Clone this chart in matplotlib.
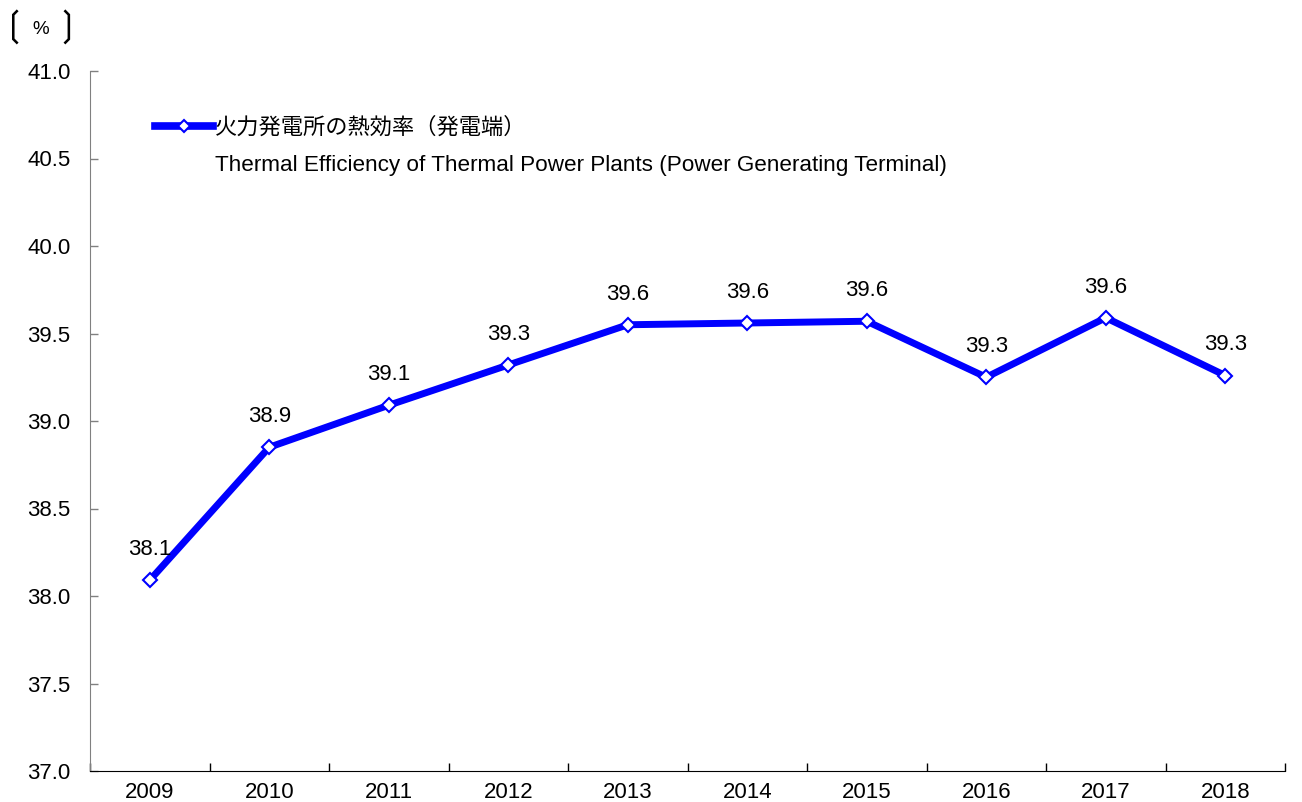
import matplotlib
matplotlib.use("Agg")
import matplotlib.pyplot as plt
from matplotlib.lines import Line2D

plt.rcParams['font.family'] = ['Liberation Sans', 'Noto Sans CJK JP', 'DejaVu Sans']

years = ['2009', '2010', '2011', '2012', '2013', '2014', '2015', '2016', '2017', '2018']
efficiency = [38.09, 38.85, 39.09, 39.32, 39.55, 39.56, 39.57, 39.25, 39.59, 39.26]
value_labels = ['38.1', '38.9', '39.1', '39.3', '39.6', '39.6', '39.6', '39.3', '39.6', '39.3']
y_ticks = [37.0, 37.5, 38.0, 38.5, 39.0, 39.5, 40.0, 40.5, 41.0]
legend_jp = '火力発電所の熱効率（発電端）'
legend_en = 'Thermal Efficiency of Thermal Power Plants (Power Generating Terminal)'
unit_label = '%'

fig = plt.figure(figsize=(13.02, 8.02), dpi=100)
ax = fig.add_axes([90/1302, 31/802, 1195/1302, 700/802])

x = list(range(len(years)))
line, = ax.plot(x, efficiency, color='#0000FF', linewidth=5,
                marker='D', markersize=7.5, markerfacecolor='white',
                markeredgecolor='#0000FF', markeredgewidth=1.5, zorder=3)

for xi, v, lab in zip(x, efficiency, value_labels):
    ax.annotate(lab, (xi, v), xytext=(0, 18), textcoords='offset points',
                ha='center', va='baseline', fontsize=16, color='black')

ax.set_xlim(-0.5, len(years) - 0.5)
ax.set_ylim(37.0, 41.0)
ax.set_yticks(y_ticks)
ax.set_yticklabels([f'{t:.1f}' for t in y_ticks], fontsize=16)
ax.set_xticks(x)
ax.set_xticklabels(years, fontsize=16)
ax.set_xticks([i - 0.5 for i in range(len(years) + 1)], minor=True)
ax.tick_params(axis='x', which='major', length=0, pad=8)
ax.tick_params(axis='x', which='minor', direction='in', length=6, width=1, color='black')
ax.tick_params(axis='y', which='major', direction='in', length=6, width=1, color='#808080', pad=14)

for s in ['top', 'right']:
    ax.spines[s].set_visible(False)
ax.spines['left'].set_color('#808080')
ax.spines['bottom'].set_color('black')

handle = Line2D([], [], color='#0000FF', linewidth=5.5, marker='D', markersize=6,
                markerfacecolor='white', markeredgecolor='#0000FF', markeredgewidth=1.5)
leg = ax.legend([handle], [legend_jp], loc='center left', bbox_to_anchor=(155/1302, 1 - 128/802),
                bbox_transform=fig.transFigure, frameon=False, fontsize=16,
                handlelength=2.6, handletextpad=0.1, borderpad=0, borderaxespad=0)
fig.text(215/1302, 1 - 166/802, legend_en, fontsize=16.2, va='center', ha='left')

fig.text(15/1302, 1 - 27/802, '❲', fontsize=25, va='center', ha='center', family='DejaVu Sans')
fig.text(41/1302, 1 - 29/802, unit_label, fontsize=13.5, va='center', ha='center')
fig.text(67/1302, 1 - 27/802, '❳', fontsize=25, va='center', ha='center', family='DejaVu Sans')

fig.savefig('out.png', dpi=100, facecolor='white')
